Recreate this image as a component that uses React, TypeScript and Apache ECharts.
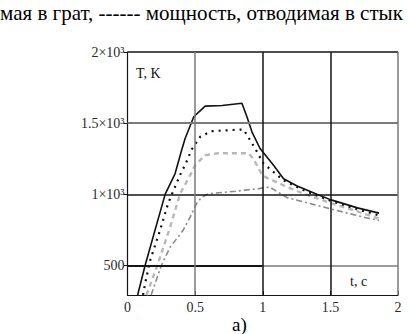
import React, { useEffect, useRef } from "react";
import * as echarts from "echarts";

// ---- data ----
const timeSolid = [0.075, 0.13, 0.278, 0.352, 0.4, 0.426, 0.49, 0.574, 0.7, 0.846, 0.883, 0.92, 0.98, 1.08, 1.154, 1.25, 1.4, 1.5, 1.7, 1.86];
const tempSolid = [293, 500, 1000, 1146, 1310, 1392, 1545, 1620, 1624, 1640, 1545, 1439, 1322, 1204, 1110, 1060, 1000, 963, 905, 868];

const timeDotted = [0.115, 0.13, 0.167, 0.24, 0.3, 0.34, 0.4, 0.426, 0.475, 0.537, 0.62, 0.858, 0.907, 0.944, 1.006, 1.08, 1.15, 1.3, 1.5, 1.7, 1.86];
const tempDotted = [293, 373, 535, 746, 935, 1028, 1160, 1206, 1316, 1404, 1444, 1456, 1380, 1322, 1216, 1157, 1100, 1030, 955, 895, 852];

const timeDashed = [0.14, 0.216, 0.315, 0.389, 0.45, 0.5, 0.574, 0.67, 0.895, 0.93, 0.957, 1.0, 1.154, 1.3, 1.5, 1.7, 1.86];
const tempDashed = [293, 488, 770, 1005, 1110, 1204, 1275, 1289, 1289, 1251, 1204, 1130, 1063, 1005, 940, 880, 829];

const timeDashDot = [0.175, 0.25, 0.315, 0.41, 0.463, 0.51, 0.55, 0.6, 0.8, 0.97, 1.05, 1.18, 1.5, 1.76, 1.86];
const tempDashDot = [293, 500, 629, 746, 840, 934, 981, 1005, 1022, 1040, 1052, 977, 899, 836, 817];

const yTickValues = [500, 1000, 1500, 2000];
const yTickLabels = ["500", "1×10³", "1.5×10³", "2×10³"];
const Y_MIN = 293;
const Y_MAX = 2000;
const X_MIN = 0;
const X_MAX = 2;
const X_INTERVAL = 0.5;

const titleText = "мая в грат, ------ мощность, отводимая в стык";
const yName = "T, K";
const xName = "t, c";
const panelLabel = "a)";

const zip = (xs: number[], ys: number[]) => xs.map((x, i) => [x, ys[i]]);

const SERIF = "Times New Roman, Liberation Serif, serif";

export default function App() {
  const ref = useRef<HTMLDivElement>(null);

  useEffect(() => {
    if (!ref.current) return;
    const chart = echarts.init(ref.current, undefined, { renderer: "svg" });

    const black = "#151515";
    const gray = "#7a7a7a";

    const option: any = {
      animation: false,
      backgroundColor: "#ffffff",
      textStyle: { fontFamily: SERIF },
      grid: { left: 127.5, top: 52, right: 12, bottom: 39, containLabel: false },
      xAxis: {
        type: "value",
        min: X_MIN,
        max: X_MAX,
        interval: X_INTERVAL,
        axisLine: { show: true, lineStyle: { color: black, width: 1.2 } },
        axisTick: { show: true, inside: true, length: 4, lineStyle: { color: black } },
        splitLine: { show: false },
        axisLabel: {
          color: "#2a2a2a",
          fontFamily: SERIF,
          fontSize: 14,
          margin: 5,
          formatter: (v: number) => String(v),
        },
      },
      yAxis: {
        type: "value",
        min: Y_MIN,
        max: Y_MAX,
        splitNumber: 4,
        axisLine: { show: true, lineStyle: { color: black, width: 1.2 } },
        axisTick: { show: true, inside: false, length: 4, lineStyle: { color: black } },
        splitLine: { show: false },
        axisLabel: {
          color: "#2a2a2a",
          fontFamily: SERIF,
          fontSize: 14,
          margin: 3,
          showMinLabel: false,
          formatter: (v: number) => {
            const i = yTickValues.indexOf(v);
            return i >= 0 ? yTickLabels[i] : "";
          },
        },
      },
      series: [
        {
          name: "grid",
          type: "line",
          data: [],
          silent: true,
          markLine: {
            silent: true,
            symbol: "none",
            label: { show: false },
            animation: false,
            data: [
              [
                { coord: [X_MIN, 500], lineStyle: { color: black, width: 2, type: "solid" } },
                { coord: [1, 500] },
              ],
              [
                { coord: [1, 500], lineStyle: { color: gray, width: 1.5, type: "solid" } },
                { coord: [X_MAX, 500] },
              ],
              { yAxis: 1000, lineStyle: { color: black, width: 1.5, type: "solid" } },
              { yAxis: 1500, lineStyle: { color: gray, width: 2, type: "solid" } },
              { yAxis: 2000, lineStyle: { color: black, width: 1.5, type: "solid" } },
              { xAxis: 0.5, lineStyle: { color: gray, width: 1.5, type: "solid" } },
              { xAxis: 1, lineStyle: { color: black, width: 1.5, type: "solid" } },
              { xAxis: 1.5, lineStyle: { color: black, width: 1.5, type: "solid" } },
              { xAxis: 2, lineStyle: { color: gray, width: 1.5, type: "solid" } },
            ],
          },
        },
        {
          name: "dashdot",
          type: "line",
          data: zip(timeDashDot, tempDashDot),
          symbol: "none",
          lineStyle: { color: "#8a8a8a", width: 1.6, type: [6, 3, 2, 3] },
        },
        {
          name: "dashed",
          type: "line",
          data: zip(timeDashed, tempDashed),
          symbol: "none",
          lineStyle: { color: "#b8b8b8", width: 2.4, type: [5, 4] },
        },
        {
          name: "dotted",
          type: "line",
          data: zip(timeDotted, tempDotted),
          symbol: "none",
          lineStyle: { color: "#111111", width: 2.2, type: [2, 5] },
        },
        {
          name: "solid",
          type: "line",
          data: zip(timeSolid, tempSolid),
          symbol: "none",
          lineStyle: { color: "#111111", width: 1.6, type: "solid" },
        },
      ],
      graphic: [
        {
          type: "text",
          x: 0,
          y: 12.5,
          style: { text: titleText, fontFamily: SERIF, fontSize: 21, fill: "#000", verticalAlign: "middle" },
        },
        {
          type: "text",
          x: 136,
          y: 73.5,
          style: { text: yName, fontFamily: SERIF, fontSize: 14, fill: "#111", verticalAlign: "middle" },
        },
        {
          type: "text",
          x: 350,
          y: 281,
          style: { text: xName, fontFamily: SERIF, fontSize: 14, fill: "#111", verticalAlign: "middle" },
        },
        {
          type: "text",
          x: 232,
          y: 324,
          style: { text: panelLabel, fontFamily: SERIF, fontSize: 19, fill: "#000", verticalAlign: "middle" },
        },
      ],
    };

    chart.setOption(option);
    return () => chart.dispose();
  }, []);

  return (
    <div
      ref={ref}
      style={{ position: "absolute", left: 0, top: 0, width: 410, height: 334, background: "#fff" }}
    />
  );
}
